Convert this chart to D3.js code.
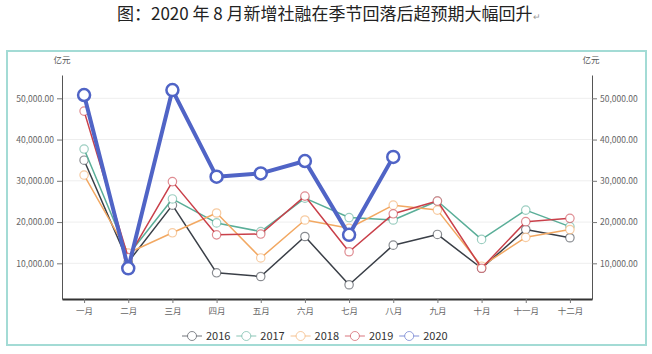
<!DOCTYPE html>
<html>
<head>
<meta charset="utf-8">
<script src="https://d3js.org/d3.v7.min.js"></script>
<style>
  body { margin: 0; background: #fff; }
  text { font-family: "Noto Sans CJK SC", "Liberation Sans", sans-serif; }
</style>
</head>
<body>
<svg class="target" width="652" height="354"></svg>
<script>

// months on the x axis
months = ['一月','二月','三月','四月','五月','六月','七月','八月','九月','十月','十一月','十二月']

// monthly new social financing, 亿元
s2016 = [35000, 10300, 24100, 7700, 6800, 16500, 4800, 14400, 17000, 8800, 18200, 16200]
s2017 = [37700, 12000, 25600, 19800, 17700, 25800, 21100, 20500, 25100, 15800, 22900, 18900]
s2018 = [31400, 12500, 17400, 22200, 11300, 20500, 18500, 24100, 22900, 9300, 16300, 18200]
s2019 = [46900, 11400, 29800, 16900, 17100, 26300, 12800, 22000, 25100, 8800, 20100, 20900]
s2020 = [50800, 8800, 52000, 31000, 31800, 34800, 16900, 35800]

years = ['2016','2017','2018','2019','2020']
yearValues = [s2016, s2017, s2018, s2019, s2020]
yearColors = ['#3a3f47', '#5aae98', '#f2a862', '#c9404a', '#5064c6']

yTicks = [10000, 20000, 30000, 40000, 50000]

width = 652
height = 354
margin = ({ top: 75, right: 60, bottom: 55, left: 62 })

const svg = d3.select('.target')

// title
svg.append('text')
    .attr('x', 117)
    .attr('y', 20)
    .style('font-size', '17px')
    .style('fill', '#222')
    .text('图：2020 年 8 月新增社融在季节回落后超预期大幅回升')
  .append('tspan')
    .style('font-size', '9px')
    .style('fill', '#999')
    .text('↵')

// teal frame
svg.append('rect')
    .attr('x', 7).attr('y', 51)
    .attr('width', 639).attr('height', 294)
    .style('fill', 'none')
    .style('stroke', '#a3dbd5')
    .style('stroke-width', 2)

xScale = d3.scalePoint()
  .domain(months)
  .range([margin.left, width - margin.right])
  .padding(0.5)

yScale = d3.scaleLinear()
  .domain([1350, 55650])
  .range([height - margin.bottom, margin.top])

fmt = d3.format(',.2f')

// grid
svg.append('g')
  .selectAll('line')
  .data(yTicks)
  .join('line')
    .attr('x1', margin.left).attr('x2', width - margin.right)
    .attr('y1', d => yScale(d)).attr('y2', d => yScale(d))
    .style('stroke', '#eeeeee')

const axisStyle = g => g
  .call(g => g.select('.domain').style('stroke', '#555'))
  .call(g => g.selectAll('.tick line').style('stroke', '#777'))
  .call(g => g.selectAll('.tick text').style('fill', '#666').style('font-size', '8.5px'))

svg.append('g')
    .attr('transform', `translate(${margin.left},0)`)
    .call(d3.axisLeft(yScale).tickValues(yTicks).tickFormat(fmt).tickSize(5).tickSizeOuter(0))
    .call(axisStyle)

svg.append('g')
    .attr('transform', `translate(${width - margin.right},0)`)
    .call(d3.axisRight(yScale).tickValues(yTicks).tickFormat(fmt).tickSize(5).tickSizeOuter(0))
    .call(axisStyle)

svg.append('g')
    .attr('transform', `translate(0,${height - margin.bottom})`)
    .call(d3.axisBottom(xScale).tickSize(4).tickSizeOuter(0))
    .call(axisStyle)
    .call(g => g.select('.domain').style('stroke', '#333').style('stroke-width', 2))
    .call(g => g.selectAll('.tick text').attr('dy', '0.9em'))

// unit labels
svg.append('text').attr('x', 62).attr('y', 63).attr('text-anchor', 'middle')
    .style('font-size', '8.5px').style('fill', '#555').text('亿元')
svg.append('text').attr('x', 591).attr('y', 63).attr('text-anchor', 'middle')
    .style('font-size', '8.5px').style('fill', '#555').text('亿元')

line = d3.line()
  .x((d, i) => xScale(months[i]))
  .y(d => yScale(d))

series = years.map((y, k) => ({ year: y, values: yearValues[k], color: yearColors[k], big: y === '2020' }))

const lines = svg.append('g')
  .selectAll('g')
  .data(series)
  .join('g')
    .call(g => g.append('path')
      .attr('d', d => line(d.values))
      .style('fill', 'none')
      .style('stroke', d => d.color)
      .style('stroke-width', d => d.big ? 4 : 1.5)
      .style('stroke-linejoin', 'round')
    )

lines.selectAll('circle')
  .data(d => d.values.map((v, i) => ({ v, i, s: d })))
  .join('circle')
    .attr('cx', d => xScale(months[d.i]))
    .attr('cy', d => yScale(d.v))
    .attr('r', d => d.s.big ? 6 : 4.2)
    .style('fill', '#fff')
    .style('stroke', d => d.s.color)
    .style('stroke-opacity', d => d.s.big ? 1 : 0.6)
    .style('stroke-width', d => d.s.big ? 2.5 : 1.2)

// legend
const legend = svg.append('g')
  .selectAll('g')
  .data(series)
  .join('g')
    .attr('transform', (d, i) => `translate(${192 + i * 54.3},336)`)

legend.append('line')
    .attr('x1', -10).attr('x2', 10)
    .style('stroke', d => d.color)
    .style('stroke-opacity', 0.6)
    .style('stroke-width', 1.2)
legend.append('circle')
    .attr('r', 4.5)
    .style('fill', '#fff')
    .style('stroke', d => d.color)
    .style('stroke-opacity', 0.6)
legend.append('text')
    .attr('x', 14)
    .attr('dy', '0.35em')
    .style('font-size', '11px')
    .style('fill', '#333')
    .text(d => d.year)

</script>
</body>
</html>
